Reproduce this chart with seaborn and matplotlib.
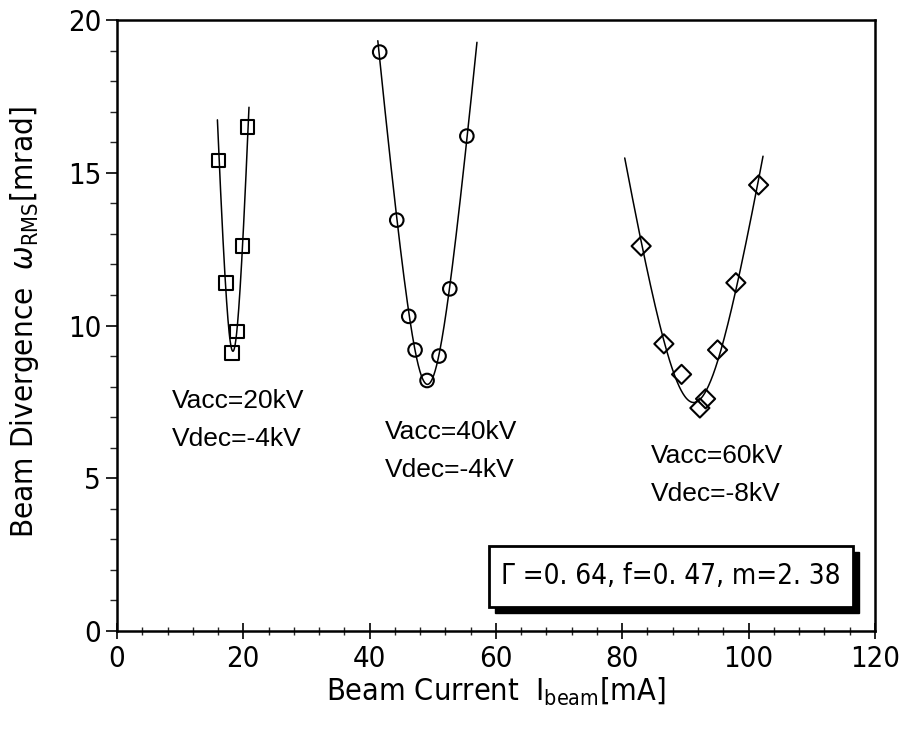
import numpy as np
import pandas as pd
import matplotlib
matplotlib.use("Agg")
import matplotlib.pyplot as plt
import seaborn as sns
from matplotlib.patches import Rectangle
from matplotlib.ticker import MultipleLocator
from matplotlib import font_manager

# ---- data ----
sq_x = [16.1, 17.3, 18.2, 19.0, 19.9, 20.7]
sq_y = [15.4, 11.4, 9.1, 9.8, 12.6, 16.5]
ci_x = [41.6, 44.3, 46.2, 47.2, 49.1, 51.0, 52.7, 55.4]
ci_y = [18.95, 13.45, 10.3, 9.2, 8.2, 9.0, 11.2, 16.2]
di_x = [83.0, 86.6, 89.4, 92.3, 93.2, 95.1, 98.0, 101.6]
di_y = [12.6, 9.4, 8.4, 7.3, 7.6, 9.2, 11.4, 14.6]
groups = ["Vacc=20kV", "Vacc=40kV", "Vacc=60kV"]
fit_ranges = [(15.9, 20.9), (41.3, 57.0), (80.4, 102.3)]
labels_acc = ["Vacc=20kV", "Vacc=40kV", "Vacc=60kV"]
labels_dec = ["Vdec=-4kV", "Vdec=-4kV", "Vdec=-8kV"]
label_pos = [(8.7, 7.3), (42.5, 6.3), (84.5, 5.5)]
param_text = "Γ =0. 64, f=0. 47, m=2. 38"
x_ticks = [0, 20, 40, 60, 80, 100, 120]
y_ticks = [0, 5, 10, 15, 20]

sns.set_theme(style="white")

# pick a condensed sans font if one is installed
cond = None
for f in font_manager.fontManager.ttflist:
    st = str(f.stretch).lower()
    if ("narrow" in f.name.lower() or "condensed" in f.name.lower() or "condensed" in st) \
            and f.style == "normal" and f.weight in (400, "normal", "regular", "book"):
        cond = f
        break
if cond is not None:
    font_manager.fontManager.addfont(cond.fname)
    narrow_family = [cond.name, "DejaVu Sans"]
    narrow_stretch = cond.stretch
    scale = 1.0
else:
    narrow_family = ["DejaVu Sans"]
    narrow_stretch = "normal"
    scale = 0.86

plt.rcParams["font.family"] = narrow_family
plt.rcParams["font.stretch"] = narrow_stretch
plt.rcParams["mathtext.fontset"] = "dejavusans"

pts = pd.DataFrame({
    "x": sq_x + ci_x + di_x,
    "y": sq_y + ci_y + di_y,
    "g": [groups[0]] * len(sq_x) + [groups[1]] * len(ci_x) + [groups[2]] * len(di_x),
})

# fitted curves (hyperbolic fit: y^2 quadratic in x, relative weighting)
rows = []
for (gx, gy), g, (lo, hi) in zip([(sq_x, sq_y), (ci_x, ci_y), (di_x, di_y)], groups, fit_ranges):
    gy = np.asarray(gy)
    coef = np.polyfit(gx, gy ** 2, 2, w=1.0 / gy ** 2)
    xs = np.linspace(lo, hi, 300)
    ys = np.sqrt(np.clip(np.polyval(coef, xs), 0, None))
    rows.append(pd.DataFrame({"x": xs, "y": ys, "g": g}))
curves = pd.concat(rows)

fig = plt.figure(figsize=(9, 7.3), dpi=100)
ax = fig.add_axes([0.13, 0.1356, 0.842, 0.837])

sns.lineplot(data=curves, x="x", y="y", units="g", estimator=None, color="black",
             lw=1.1, sort=False, ax=ax, legend=False)
sns.scatterplot(data=pts, x="x", y="y", style="g",
                markers={groups[0]: "s", groups[1]: "o", groups[2]: "D"},
                s=95, facecolor="none", edgecolor="black", linewidth=1.5,
                ax=ax, legend=False, zorder=3)

ax.set_xlim(0, 120)
ax.set_ylim(0, 20)
ax.set_xticks(x_ticks)
ax.set_yticks(y_ticks)
ax.xaxis.set_minor_locator(MultipleLocator(4))
ax.yaxis.set_minor_locator(MultipleLocator(1))
ax.tick_params(axis="x", which="major", direction="inout", length=12, width=1.2,
               labelsize=21 * scale, colors="black", bottom=True, pad=4)
ax.tick_params(axis="x", which="minor", direction="inout", length=6, width=1.0, bottom=True)
ax.tick_params(axis="y", which="major", direction="out", length=8, width=1.2,
               labelsize=21 * scale, colors="black", left=True)
ax.tick_params(axis="y", which="minor", direction="out", length=5, width=1.0, left=True)
for s in ax.spines.values():
    s.set_color("black")
    s.set_linewidth(1.8)

ax.set_xlabel("Beam Current  I$_{\\mathrm{beam}}$[mA]", fontsize=22 * scale, color="black", labelpad=2)
ax.set_ylabel("Beam Divergence  $\\omega_{\\mathrm{RMS}}$[mrad]", fontsize=22.5 * scale,
              color="black", labelpad=6)
ax.yaxis.set_label_coords(-0.1, 0.505)

for (lx, ly), a, d in zip(label_pos, labels_acc, labels_dec):
    ax.text(lx, ly, a, fontsize=19, family=["Liberation Sans", "DejaVu Sans"], stretch="normal", color="black")
    ax.text(lx, ly - 1.25, d, fontsize=19, family=["Liberation Sans", "DejaVu Sans"], stretch="normal", color="black")

# parameter box with shadow
shadow = Rectangle((59.9, 0.6), 57.6, 2.0, facecolor="black", edgecolor="black", zorder=4)
box = Rectangle((58.9, 0.79), 57.6, 2.0, facecolor="white", edgecolor="black", lw=2.0, zorder=5)
ax.add_patch(shadow)
ax.add_patch(box)
ax.text(87.7, 1.79, param_text, fontsize=20 * scale, ha="center", va="center", color="black", zorder=6)

fig.savefig("out.png", dpi=100)
